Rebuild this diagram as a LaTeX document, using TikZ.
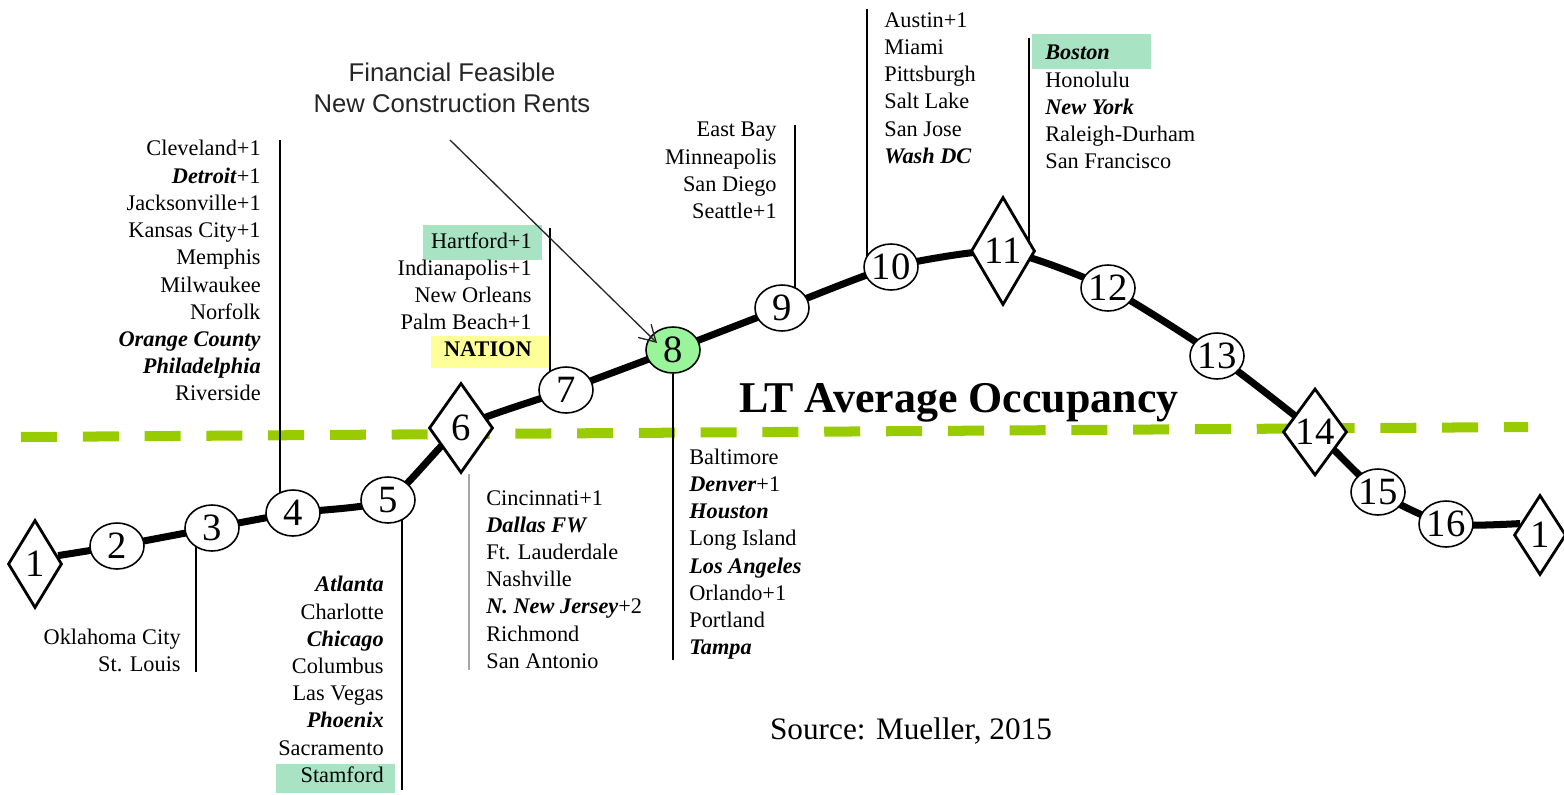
\documentclass[tikz,border=0pt]{standalone}
\usepackage{fontspec}
\setmainfont{Liberation Serif}
\newfontfamily\notefont{Liberation Sans}
\usetikzlibrary{arrows.meta, positioning, backgrounds, shapes.geometric, calc}
\usepackage{xcolor}
\definecolor{OccGreen}{HTML}{99CC00}
\definecolor{MarkMint}{HTML}{A8E3C4}
\definecolor{MarkYellow}{HTML}{FFFF99}
\definecolor{HotGreen}{HTML}{99F599}
\newcommand{\hot}[1]{\textbf{\textit{#1}}}
\tikzset{
  cnode/.style={ellipse, draw, line width=0.9pt, fill=white, minimum width=1.08cm,
    minimum height=0.92cm, inner sep=-2pt, font=\fontsize{22}{22}\selectfont},
  dnode/.style={diamond, draw, line width=1.6pt, fill=white, minimum width=1.28cm,
    minimum height=1.8cm, inner sep=-2pt, font=\fontsize{22}{22}\selectfont},
  clist/.style={inner sep=0pt, font=\fontsize{12.7}{15.5}\selectfont},
  lead/.style={line width=1pt},
  leadg/.style={line width=1.4pt, draw=black!35},
  track/.style={line width=4pt, line join=round},
  occline/.style={line width=5.7pt, draw=OccGreen, dash pattern=on 0.72cm off 0.516cm},
  pointer/.style={-{Straight Barb[length=0.32cm, width=0.37cm]}, line width=0.75pt, draw=black!85},
}

\begin{document}
\begin{tikzpicture}[x=0.02cm, y=-0.02cm]
  \useasboundingbox (0,0) rectangle (1564,794);

  % the sixteen stops of the cycle
  \node[dnode, minimum width=1.08cm, minimum height=1.76cm] (n1) at (35,564) {1};
  \node[cnode] (n2) at (117,546) {2};
  \node[cnode] (n3) at (212,528) {3};
  \node[cnode] (n4) at (293,513) {4};
  \node[cnode] (n5) at (388,500) {5};
  \node[dnode] (n6) at (461,428) {6};
  \node[cnode] (n7) at (566,390) {7};
  \node[cnode, fill=HotGreen] (n8) at (673,350) {8};
  \node[cnode] (n9) at (782,308) {9};
  \node[cnode] (n10) at (891,267) {10};
  \node[dnode, minimum height=2.16cm] (n11) at (1003,251) {11};
  \node[cnode] (n12) at (1108,288) {12};
  \node[cnode] (n13) at (1217,356) {13};
  \node[dnode, minimum height=1.74cm] (n14) at (1315,432) {14};
  \node[cnode] (n15) at (1378,492) {15};
  \node[cnode] (n16) at (1446,524) {16};
  \node[dnode, minimum width=1.04cm, minimum height=1.6cm] (n17) at (1540,535) {1};

  % ends of the leader lines
  \coordinate (b3) at (196,672);
  \coordinate (t4) at (280,140);
  \coordinate (b5) at (402,790);
  \coordinate (b6) at (469,670);
  \coordinate (t7) at (550,228);
  \coordinate (b8) at (673,660);
  \coordinate (t9) at (795,125);
  \coordinate (t10) at (867,9);
  \coordinate (t11) at (1029,38);

  \begin{scope}[on background layer]
    \fill[MarkMint] (423,225) rectangle (542,260);
    \fill[MarkYellow] (431,336) rectangle (550,368);
    \fill[MarkMint] (276,764) rectangle (395,793);
    \fill[MarkMint] (1032,34) rectangle (1151,69);
    \draw[occline] (21,437) -- (1528,427);
    \draw[track] plot[smooth, tension=0.35] coordinates {(n1.20) (n2) (n3) (n4) (n5) (n6)
      (n7) (n8) (n9) (n10) (n11) (n12) (n13) (n14) (n15) (n16) (n17.150)};
    \draw[lead] (b3) -- (b3 |- n3);
    \draw[lead] (t4) -- (t4 |- n4);
    \draw[lead] (b5) -- (b5 |- n5);
    \draw[leadg] (b6) -- (b6 |- n6.south);
    \draw[lead] (t7) -- (t7 |- n7);
    \draw[lead] (b8) -- (n8);
    \draw[lead] (t9) -- (t9 |- n9);
    \draw[lead] (t10) -- (t10 |- n10);
    \draw[lead] (t11) -- (t11 |- n11);
  \end{scope}

  % markets at each stop
  \node[clist, align=right, above left=0cm and 0.3cm of b3] (l3) {Oklahoma City\\St. Louis};
  \node[clist, align=right, below left=0cm and 0.38cm of t4] (l4) {Cleveland+1\\\hot{Detroit}+1\\Jacksonville+1\\Kansas City+1\\Memphis\\Milwaukee\\Norfolk\\\hot{Orange County}\\\hot{Philadelphia}\\Riverside};
  \node[clist, align=right, above left=0.14cm and 0.36cm of b5] (l5) {\hot{Atlanta}\\Charlotte\\\hot{Chicago}\\Columbus\\Las Vegas\\\hot{Phoenix}\\Sacramento\\Stamford};
  \node[clist, align=left, above right=0.02cm and 0.34cm of b6] (l6) {Cincinnati+1\\\hot{Dallas FW}\\Ft. Lauderdale\\Nashville\\\hot{N. New Jersey}+2\\Richmond\\San Antonio};
  \node[clist, align=right, below left=0.08cm and 0.36cm of t7] (l7) {Hartford+1\\Indianapolis+1\\New Orleans\\Palm Beach+1\\\textbf{NATION}};
  \node[clist, align=left, above right=0cm and 0.32cm of b8] (l8) {Baltimore\\\hot{Denver}+1\\\hot{Houston}\\Long Island\\\hot{Los Angeles}\\Orlando+1\\Portland\\\hot{Tampa}};
  \node[clist, align=right, below left=-0.06cm and 0.36cm of t9] (l9) {East Bay\\Minneapolis\\San Diego\\Seattle+1};
  \node[clist, align=left, below right=0.06cm and 0.34cm of t10] (l10) {Austin+1\\Miami\\Pittsburgh\\Salt Lake\\San Jose\\\hot{Wash DC}};
  \node[clist, align=left, below right=0.14cm and 0.32cm of t11] (l11) {\hot{Boston}\\Honolulu\\\hot{New York}\\Raleigh-Durham\\San Francisco};

  \node[font=\fontsize{25}{30}\selectfont\bfseries, anchor=base] (occ) at (959,412) {LT Average Occupancy};
  \node[font=\fontsize{17.8}{21}\selectfont, anchor=base] (src) at (911,739) {Source: Mueller, 2015};

  \node[font=\notefont\fontsize{14.6}{17.6}\selectfont, align=center, anchor=north,
    text=black!85, inner sep=0pt] (ff) at (452,63) {Financial Feasible\\New Construction Rents};
  \coordinate (ffend) at (450,140);
  \draw[pointer] (ffend) -- ([xshift=-0.32cm, yshift=0.14cm]n8.center);
\end{tikzpicture}
\end{document}
